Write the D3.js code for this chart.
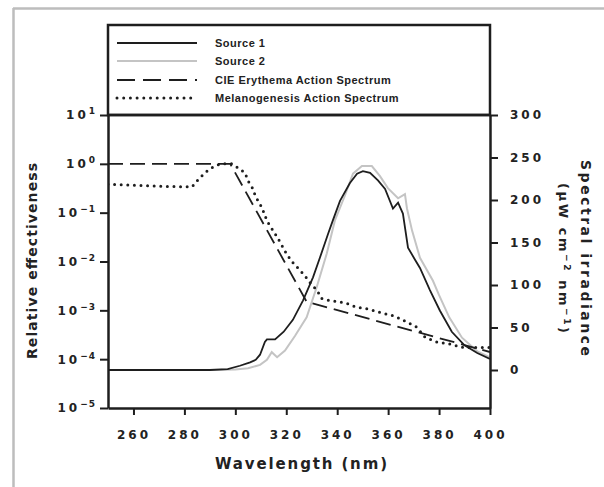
<!DOCTYPE html>
<html lang="en">
<head>
<meta charset="UTF-8">
<title>Action spectra and source irradiance</title>
<script src="https://d3js.org/d3.v7.min.js"></script>
<style>
  body { margin: 0; background: #fff; }
  svg text { font-family: "DejaVu Sans", Verdana, sans-serif; font-weight: bold; fill: #222; }
  .legend text { font-family: "Liberation Sans", Arial, sans-serif; }
</style>
</head>
<body>
<svg width="604" height="487"></svg>
<script>
// ticks
const wavelengthTicks = [260, 280, 300, 320, 340, 360, 380, 400];
const decadeTicks = [1e-5, 1e-4, 1e-3, 1e-2, 1e-1, 1, 10];
const irradianceTicks = [0, 50, 100, 150, 200, 250, 300];

// Source 1 spectral irradiance (uW cm-2 nm-1)
const source1Wl = [250, 270, 290, 297, 301.8, 305.8, 308, 309.7, 311.6, 312.4, 315.6, 319, 322.6, 326.6, 330.5, 333.2,
  336.4, 338.3, 341.1, 345, 347.8, 350.1, 352.9, 356, 358.8, 361.9, 363.9, 365.8, 367.8, 370.5, 372.5, 376.4,
  380.3, 385, 390, 395, 400];
const source1Val = [0, 0, 0, 1, 5, 9, 12, 18, 33, 36, 36, 45, 59, 82, 109, 132,
  160, 176, 199, 220, 231, 234, 232, 223, 213, 190, 197, 184, 144, 130, 120, 94,
  70, 45, 29, 20, 13];

// Source 2 spectral irradiance
const source2Wl = [250, 290, 300, 305, 309.7, 312.4, 314.3, 316.4, 319.5, 323.4, 328, 332, 335.9, 339.1, 343, 346.2,
  349.7, 353.6, 356.8, 359.9, 363.9, 366.6, 367.4, 369.4, 372.5, 377.6, 380, 384, 389, 395, 400];
const source2Val = [0, 0, 0.5, 2, 6, 12, 21, 15, 23, 40, 62, 98, 137, 176, 205, 231,
  240, 240, 228, 214, 202, 207, 190, 164, 132, 105, 88, 62, 38, 22, 15];

// CIE erythema action spectrum (relative)
const cieWl = [250, 298, 328, 400];
const cieVal = [1, 1, 0.0015, 0.00014];

// melanogenesis action spectrum (relative)
const melWl = [250, 260, 270, 280, 283, 285.3, 288.1, 290.8, 293.2, 296, 298.7, 301, 303.8, 305, 306.5, 307.7,
  308.9, 310.5, 311.6, 312.8, 314.8, 316.7, 318.7, 320.3, 322.6, 325.4, 327.3, 329.3, 332, 334, 337.2, 340.3,
  343.8, 347.8, 350.9, 354, 358, 361.5, 363.5, 365.8, 371.3, 374.5, 379.2, 384.3, 389.4, 394.9, 400];
const melVal = [0.38, 0.363, 0.347, 0.339, 0.339, 0.468, 0.66, 0.83, 0.955, 1.0, 1.0, 0.83, 0.66, 0.447, 0.339, 0.234,
  0.174, 0.126, 0.087, 0.063, 0.043, 0.030, 0.0195, 0.0138, 0.0095, 0.0066, 0.0051, 0.0037, 0.0026, 0.00174, 0.00158, 0.00151,
  0.00138, 0.00115, 0.0011, 0.001, 0.00087, 0.00079, 0.00072, 0.00063, 0.00045, 0.00028, 0.000224, 0.000204, 0.000174, 0.000174, 0.000174];

const legendItems = ["Source 1", "Source 2", "CIE Erythema Action Spectrum", "Melanogenesis Action Spectrum"];

const svg = d3.select("svg");
const pLeft = 108, pRight = 490, pTop = 115, pBottom = 408;
const ink = "#1e1e1e";

// page frame (only top and left edges show)
svg.append("line").attr("x1", 13).attr("x2", 604).attr("y1", 8.5).attr("y2", 8.5)
  .attr("stroke", "#bdbdbd").attr("stroke-width", 2.5);
svg.append("line").attr("x1", 13.5).attr("x2", 13.5).attr("y1", 8).attr("y2", 487)
  .attr("stroke", "#bdbdbd").attr("stroke-width", 2.5);

const x = d3.scaleLinear().domain([250, 400]).range([pLeft, pRight]);
const yL = d3.scaleLog().domain([1e-5, 10]).range([pBottom, pTop]);
const yR = d3.scaleLinear().domain([-44.7, 300]).range([pBottom, pTop]);

svg.append("clipPath").attr("id", "clip").append("rect")
  .attr("x", pLeft).attr("y", pTop).attr("width", pRight - pLeft).attr("height", pBottom - pTop);
const plot = svg.append("g").attr("clip-path", "url(#clip)");

const zip = (a, b) => a.map((v, i) => [v, b[i]]);
const lineR = d3.line().x(d => x(d[0])).y(d => yR(d[1]));
const lineL = d3.line().x(d => x(d[0])).y(d => yL(d[1]));

plot.append("path").datum(zip(source2Wl, source2Val)).attr("d", lineR)
  .attr("fill", "none").attr("stroke", "#c4c4c4").attr("stroke-width", 2);
plot.append("path").datum(zip(source1Wl, source1Val)).attr("d", lineR)
  .attr("fill", "none").attr("stroke", ink).attr("stroke-width", 1.8);
plot.append("path").datum(zip(cieWl, cieVal)).attr("d", lineL)
  .attr("fill", "none").attr("stroke", ink).attr("stroke-width", 1.8).attr("stroke-dasharray", "15,7");
plot.append("path").datum(zip(melWl, melVal)).attr("d", lineL)
  .attr("fill", "none").attr("stroke", ink).attr("stroke-width", 3)
  .attr("stroke-dasharray", "0,6.6").attr("stroke-linecap", "round");

// axes
function styleAxis(g) {
  g.select(".domain").attr("stroke", ink).attr("stroke-width", 2.5);
  g.selectAll(".tick line").attr("stroke", ink).attr("stroke-width", 2);
  g.selectAll(".tick text").attr("font-size", 12).attr("letter-spacing", 3)
    .attr("font-family", null).attr("fill", ink);
}

const axL = svg.append("g").attr("transform", `translate(${pLeft},0)`)
  .call(d3.axisLeft(yL).tickValues(decadeTicks).tickSize(8).tickSizeOuter(0).tickPadding(4).tickFormat(""))
  .call(styleAxis);
axL.selectAll(".tick text").each(function(d) {
  const t = d3.select(this);
  const e = Math.round(Math.log10(d));
  t.append("tspan").text("10");
  t.append("tspan").attr("dy", -5).attr("font-size", 9).attr("letter-spacing", 1)
    .text(e < 0 ? "\u2212" + (-e) : String(e));
});

svg.append("g").attr("transform", `translate(${pRight},0)`)
  .call(d3.axisRight(yR).tickValues(irradianceTicks).tickSize(8).tickSizeOuter(0).tickPadding(12))
  .call(styleAxis);

svg.append("g").attr("transform", `translate(0,${pBottom})`)
  .call(d3.axisBottom(x).tickValues(wavelengthTicks).tickSize(7).tickSizeOuter(0).tickPadding(15))
  .call(styleAxis);

// top frame / legend box
svg.append("line").attr("x1", pLeft).attr("x2", pRight).attr("y1", pTop).attr("y2", pTop)
  .attr("stroke", ink).attr("stroke-width", 2.5);
svg.append("rect").attr("x", pLeft).attr("y", 25).attr("width", pRight - pLeft).attr("height", pTop - 25)
  .attr("fill", "none").attr("stroke", ink).attr("stroke-width", 2.5);

const legend = svg.append("g").attr("class", "legend");
const legendY = [43, 61, 80, 98];
const legendStyles = [
  { stroke: ink, w: 1.8, dash: null, cap: "butt" },
  { stroke: "#c4c4c4", w: 2, dash: null, cap: "butt" },
  { stroke: ink, w: 1.8, dash: "18,8", cap: "butt" },
  { stroke: ink, w: 3, dash: "0,6.7", cap: "round" }
];
legendItems.forEach((name, i) => {
  const s = legendStyles[i];
  legend.append("line").attr("x1", 117).attr("x2", 197).attr("y1", legendY[i]).attr("y2", legendY[i])
    .attr("stroke", s.stroke).attr("stroke-width", s.w).attr("stroke-dasharray", s.dash)
    .attr("stroke-linecap", s.cap);
  legend.append("text").attr("x", 215).attr("y", legendY[i] + 4)
    .attr("font-size", 11).attr("letter-spacing", 0.5).text(name);
});

// axis titles
svg.append("text").attr("x", 301).attr("y", 469).attr("text-anchor", "middle")
  .attr("font-size", 15).attr("textLength", 172).attr("lengthAdjust", "spacing")
  .text("Wavelength (nm)");

svg.append("text").attr("transform", "translate(37,261) rotate(-90)").attr("text-anchor", "middle")
  .attr("font-size", 14).attr("textLength", 196).attr("lengthAdjust", "spacing")
  .text("Relative effectiveness");

svg.append("text").attr("transform", "translate(581,258) rotate(90)").attr("text-anchor", "middle")
  .attr("font-size", 14).attr("textLength", 196).attr("lengthAdjust", "spacing")
  .text("Spectral irradiance");

const unit = svg.append("text").attr("transform", "translate(559,258) rotate(90)").attr("text-anchor", "middle")
  .attr("font-size", 13).attr("textLength", 150).attr("lengthAdjust", "spacing");
unit.append("tspan").text("(\u03bcW cm");
unit.append("tspan").attr("dy", -5).attr("font-size", 9).text("\u22122");
unit.append("tspan").attr("dy", 5).text(" nm");
unit.append("tspan").attr("dy", -5).attr("font-size", 9).text("\u22121");
unit.append("tspan").attr("dy", 5).text(")");
</script>
</body>
</html>
